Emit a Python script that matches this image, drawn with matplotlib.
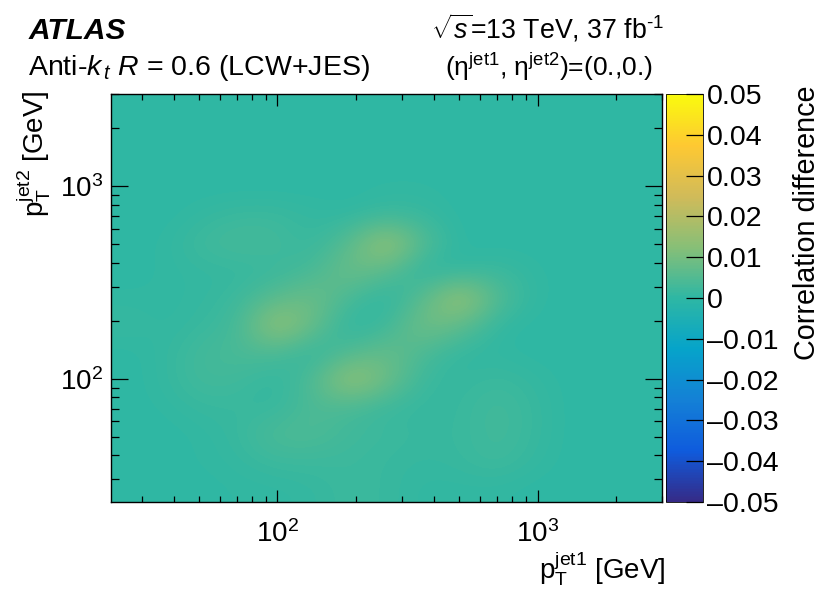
import numpy as np
import matplotlib
matplotlib.use("Agg")
import matplotlib.pyplot as plt
from matplotlib.colors import LinearSegmentedColormap
from matplotlib.ticker import LogLocator, NullFormatter

plt.rcParams['font.family'] = ['Liberation Sans', 'DejaVu Sans']
plt.rcParams['mathtext.fontset'] = 'custom'
plt.rcParams['mathtext.rm'] = 'Liberation Sans'
plt.rcParams['mathtext.it'] = 'Liberation Sans:italic'
plt.rcParams['mathtext.bf'] = 'Liberation Sans:bold'

# axis range in GeV
pt_min = 22.9
pt_max = 3010.0

# correlation difference, in units of 1e-3
# rows go from high pt2 to low pt2, columns from low pt1 to high pt1
z_table = [
    [0, 0, 0, 0, 0, 0, 0, 0, 0, 0, 0, 0, 0, 0, 0],
    [0, 0, 0, 0, 0, 0, 0, 0, 0, 0, 0, 0, 0, 0, 0],
    [0, 0, 0, 0, 0, 0, 0, 0, 0, 0, 0, 0, 0, 0, 0],
    [0, 0, 0, 0, 0, 0, 0, 0.5, 0.5, 0, 0, 0, 0, 0, 0],
    [0, 0, 1, 2, 2, 1, 0.5, 2, 1.5, 0, 0, 0, 0, 0, 0],
    [0, 0.5, 2.5, 3.5, 3, 1, 6, 17, 5, 0, 0, 0, 0, 0, 0],
    [0, 0.5, 1, 1, 1.5, 3.5, 9, 6, -0.5, 0.5, 2, 0.5, 0, 0, 0],
    [0.5, 0.5, 1, 2, 6, 9, 3.5, -0.5, 6, 17, 5, 0.5, 0, 0, 0],
    [1.5, 0.5, 1.5, 3, 16, 8, -0.5, 2, 10, 7, 0.5, 0, 0, 0, 0],
    [0, 1, 3, 4, 4, 0, 4.5, 8, 4, 0.5, 0.5, 0, 0, 0, 0],
    [0, 1, 3, 2.5, 0.5, 4.5, 16, 9, 1.5, 1, 2, 1, 0, 0, 0],
    [0, 0.5, 1.5, 1.5, 1, 4.5, 3.5, 1.5, 1, 1.5, 3, 1.5, 0, 0, 0],
    [0, 0, 0.5, 1.5, 4.5, 4.5, 2.5, 2, 1.5, 1.5, 3, 1.5, 0, 0, 0],
    [0, 0, 0.5, 1, 2, 2, 2, 1.5, 1, 1.5, 2.5, 1, 0, 0, 0],
    [0, 0, 0, 0.5, 0.5, 1, 2, 1.5, 0.5, 0.5, 0.5, 0, 0, 0, 0],
]

cbar_ticks = [-0.05, -0.04, -0.03, -0.02, -0.01, 0, 0.01, 0.02, 0.03, 0.04, 0.05]
cbar_labels = ['–0.05', '–0.04', '–0.03', '–0.02', '–0.01', '0', '0.01', '0.02', '0.03', '0.04', '0.05']

# ROOT kBird palette
bird = [(0.2082, 0.1664, 0.5293), (0.0592, 0.3599, 0.8684), (0.0780, 0.5041, 0.8385),
        (0.0232, 0.6419, 0.7914), (0.1802, 0.7178, 0.6425), (0.5301, 0.7492, 0.4662),
        (0.8186, 0.7328, 0.3499), (0.9956, 0.7862, 0.1968), (0.9764, 0.9832, 0.0539)]
cmap = LinearSegmentedColormap.from_list('bird', bird, N=256)

W, H = 830.0, 604.0
rect = [111 / W, 1 - 502 / H, 551 / W, 408 / H]
cbar_rect = [666 / W, 1 - 502 / H, 37 / W, 408 / H]

fig = plt.figure(figsize=(8.3, 6.04), dpi=100)

# smooth map sits in log10 coordinates under the log axes
ax_img = fig.add_axes(rect)
im = ax_img.imshow(np.array(z_table) * 1e-3, cmap=cmap, vmin=-0.05, vmax=0.05,
                   aspect='auto', interpolation='bicubic', origin='upper',
                   extent=[np.log10(pt_min), np.log10(pt_max), np.log10(pt_min), np.log10(pt_max)])
ax_img.axis('off')

ax = fig.add_axes(rect, facecolor='none')
ax.set_xscale('log')
ax.set_yscale('log')
ax.set_xlim(pt_min, pt_max)
ax.set_ylim(pt_min, pt_max)
for a in (ax.xaxis, ax.yaxis):
    a.set_major_locator(LogLocator(base=10, numticks=6))
    a.set_minor_locator(LogLocator(base=10, subs=np.arange(2, 10), numticks=6))
    a.set_minor_formatter(NullFormatter())
ax.tick_params(axis='x', which='major', direction='in', top=True, length=8.5, width=0.9, labelsize=20, pad=13)
ax.tick_params(axis='x', which='minor', direction='in', top=True, length=4.5, width=0.9)
ax.tick_params(axis='y', which='major', direction='in', right=True, length=12, width=0.9, labelsize=20, pad=6)
ax.tick_params(axis='y', which='minor', direction='in', right=True, length=6, width=0.9)
for s in ax.spines.values():
    s.set_linewidth(1.0)

cax = fig.add_axes(cbar_rect)
cb = fig.colorbar(im, cax=cax)
cb.set_ticks(cbar_ticks)
cb.set_ticklabels(cbar_labels)
cax.tick_params(direction='in', length=12, width=0.9, labelsize=20.5, pad=3)
cb.outline.set_linewidth(0.6)

fig.text(807 / W, 1 - 86 / H, 'Correlation difference', rotation=90, fontsize=20.7,
         ha='center', va='top')
fig.text(665 / W, 1 - 579 / H, r'p$_{\mathrm{T}}^{\mathrm{jet1}}$ [GeV]', fontsize=20,
         ha='right', va='baseline')
fig.text(53 / W, 1 - 91 / H, r'p$_{\mathrm{T}}^{\mathrm{jet2}}$ [GeV]', fontsize=20,
         rotation=90, ha='right', va='top')

fig.text(29 / W, 1 - 39 / H, 'ATLAS', fontsize=21.5, fontweight='bold', fontstyle='italic')
fig.text(28 / W, 1 - 75 / H, r'Anti-$k_{\,t}$ $R$ = 0.6 (LCW+JES)', fontsize=20.5)
fig.text(431 / W, 1 - 38 / H, r'$\sqrt{s}$=13 TeV, 37 fb$^{\text{-1}}$', fontsize=19.3)
fig.text(445 / W, 1 - 76 / H, r'(η$^{\mathrm{jet1}}$, η$^{\mathrm{jet2}}$)=(0.,0.)', fontsize=19)

fig.savefig('out.png', dpi=100)
